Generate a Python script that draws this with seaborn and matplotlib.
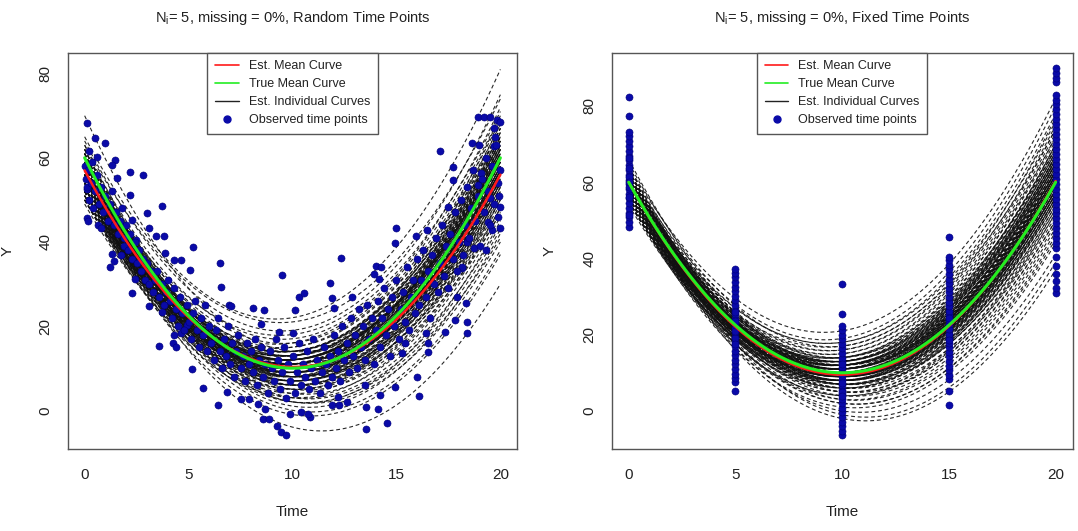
import numpy as np
import pandas as pd
import matplotlib
matplotlib.use("Agg")
import matplotlib.pyplot as plt
from matplotlib.lines import Line2D
import seaborn as sns

# ---------------------------------------------------------------- data
# Individual fitted curves, each given by its value at t = 0, 10 and 20
rand_curve_y0 = [70, 65, 64, 63, 62, 61, 60, 59, 58, 57, 56, 55, 54, 53, 52, 51, 50, 60, 59, 58,
                 57, 56, 55, 54, 53, 52, 51, 50, 62, 61, 60, 58, 57, 56, 55, 54, 53, 52, 51, 50,
                 59, 57, 55, 53, 56, 54, 52, 58, 60, 61, 57, 55, 53, 62, 59, 56, 54, 51, 50, 49,
                 63, 60, 58, 56, 55, 53, 57, 55, 52, 59, 61, 54, 50, 58, 56, 62, 60, 52, 57, 54,
                 58, 56, 54, 57, 55, 53, 59, 60, 52, 51, 56, 58, 54, 55, 57, 59, 61, 53, 56, 58,
                 60, 55, 52, 57, 54, 59, 56, 58, 61, 53]
rand_curve_y10 = [14, 22, 19, 21, 17, 13, 16, 12, 15, 11, 14, 10, 12, 9, 13, 8, 11, 9, 7, 10,
                  6, 8, 5, 7, 4, 6, 3, 5, 11, 8, 12, 13, 9, 11, 13, 10, 8, 10, 7, 9,
                  2, 1, 0, -1, -4, 3, 2, 4, 6, 5, 14, 16, 15, 14, 18, 12, 11, 12, 7, 6,
                  10, 10, 8, 6, 7, 5, 10, 9, 8, 11, 13, 14, 10, 3, 2, 8, 14, 11, 12, 6,
                  11, 10, 9, 12, 11, 10, 10, 11, 9, 10, 9, 12, 13, 12, 8, 9, 10, 11, 13, 10,
                  13, 8, 12, 11, 8, 14, 7, 9, 12, 7]
rand_curve_y20 = [62, 81, 75, 74, 72, 70, 69, 66, 68, 65, 64, 63, 61, 60, 62, 58, 57, 59, 56, 58,
                  55, 54, 52, 53, 50, 49, 47, 48, 60, 57, 63, 61, 56, 59, 64, 57, 55, 56, 52, 54,
                  45, 42, 38, 37, 30, 44, 41, 46, 51, 48, 66, 70, 67, 67, 71, 60, 59, 60, 50, 48,
                  58, 55, 53, 50, 51, 47, 62, 58, 57, 64, 65, 65, 56, 43, 40, 54, 67, 63, 61, 52,
                  60, 58, 56, 62, 61, 59, 61, 62, 55, 57, 57, 64, 63, 62, 54, 57, 60, 60, 65, 59,
                  66, 55, 61, 63, 54, 68, 52, 58, 64, 53]

fixed_curve_y0 = [64, 63, 62, 65, 61, 60, 63, 59, 62, 58, 61, 57, 60, 56, 59, 55, 58, 62, 57, 60,
                  56, 59, 55, 61, 57, 60, 56, 58, 62, 59, 64, 63, 61, 60, 58, 57, 56, 55, 59, 61,
                  63, 58, 57, 60, 62, 55, 54, 56, 58, 60, 59, 57, 61, 62, 64, 66, 60, 58, 56, 59,
                  61, 63, 57, 55, 60, 58, 61, 59, 62, 57, 60, 56, 59, 62, 58, 55, 60, 57, 63, 61,
                  60, 59, 61, 58, 62, 57, 60, 59, 61, 58, 60, 62, 57, 59, 61, 60, 58, 63, 56, 59,
                  62, 60, 57, 61, 58, 60, 59, 63, 56, 61]
fixed_curve_y10 = [21, 19, 18, 17, 16, 15, 14, 13, 12, 11, 13, 12, 11, 10, 9, 8, 10, 9, 7, 8,
                   6, 5, 4, 6, 3, 2, 1, 0, -1, -2, 11, 13, 10, 12, 14, 9, 11, 10, 7, 8,
                   9, 6, 5, 4, 5, 6, 8, 8, 9, 10, 11, 13, 15, 16, 14, 12, 7, 8, 12, 12,
                   11, 7, 10, 9, 3, 2, 18, 17, 13, 14, 6, 4, 10, 10, 12, 7, 9, 8, 12, 9,
                   10, 9, 11, 10, 11, 9, 12, 8, 9, 11, 9, 12, 11, 13, 7, 11, 8, 10, 9, 10,
                   14, 13, 7, 12, 12, 8, 11, 13, 10, 10]
fixed_curve_y20 = [82, 80, 78, 77, 75, 73, 72, 70, 69, 67, 68, 66, 65, 63, 62, 60, 61, 59, 57, 58,
                   55, 53, 50, 52, 48, 46, 44, 41, 39, 37, 66, 70, 64, 67, 71, 60, 64, 62, 56, 57,
                   60, 54, 51, 49, 50, 53, 58, 59, 61, 63, 65, 68, 72, 74, 70, 65, 55, 57, 66, 64,
                   62, 54, 60, 58, 47, 45, 76, 74, 67, 69, 56, 52, 62, 61, 63, 56, 59, 58, 63, 58,
                   62, 60, 64, 61, 63, 59, 66, 57, 60, 63, 58, 65, 62, 67, 56, 63, 58, 62, 60, 61,
                   69, 68, 55, 66, 65, 57, 62, 67, 61, 61]

# Estimated and true mean curves (value at t = 0, 10, 20)
rand_est_mean = [57, 10.3, 56]
fixed_est_mean = [60, 9.5, 60.3]
true_mean = [60, 10, 60]

# Observations at random time points: (time, Y)
rand_obs = [
    (0.1, 68.3), (0.2, 61.5), (0.5, 64.7), (1.0, 63.5), (0.6, 60.2), (0.0, 58.0), (0.1, 52.6),
    (0.1, 45.6), (0.15, 45.0), (0.65, 44.0), (0.8, 43.4), (1.45, 59.5), (1.3, 58.3), (1.55, 55.2),
    (2.2, 56.7), (2.8, 56.0), (1.2, 34.0), (1.4, 35.5), (1.3, 37.1), (1.75, 37.0), (1.9, 39.0),
    (2.2, 51.2), (2.3, 45.2), (2.45, 40.5), (3.0, 46.8), (3.1, 43.3), (3.7, 48.6), (3.45, 41.3),
    (3.8, 41.3), (2.3, 27.8), (2.4, 31.3), (3.1, 24.8), (3.6, 15.3), (3.7, 23.4), (4.25, 15.9),
    (4.4, 15.1), (4.3, 17.9), (4.65, 35.7), (4.3, 35.7), (3.85, 37.3), (5.2, 38.9), (5.05, 33.3),
    (5.15, 9.7), (4.65, 18.3), (4.9, 20.2), (5.7, 5.2), (6.5, 34.9), (6.55, 29.4), (6.4, 1.2),
    (6.85, 4.4), (6.95, 25.0), (7.05, 24.8), (7.5, 2.8), (8.1, 24.2), (8.65, 23.8), (8.5, 20.6),
    (7.9, 2.8), (8.35, 1.6), (8.6, -2.0), (8.7, 0.2), (8.85, -2.0), (9.25, -3.8), (9.45, -5.2),
    (9.7, -5.8), (9.5, 32.1), (9.35, 18.7), (9.9, -0.8), (10.1, 23.8), (10.3, 27.0), (10.55, 27.8),
    (10.0, 18.3), (10.4, -0.4), (10.85, -1.6), (10.75, -0.8), (11.8, 30.3), (11.9, 26.6),
    (12.35, 36.1), (12.0, 24.2), (12.2, 3.2), (11.9, 1.2), (12.25, 1.2), (12.6, 2.0), (12.85, 27.0),
    (13.5, 6.0), (13.55, -4.4), (13.55, 0.8), (14.1, 0.4), (14.2, 3.6), (14.55, -3.0), (14.0, 34.3),
    (14.25, 34.1), (13.9, 32.5), (14.15, 31.1), (15.0, 43.3), (14.95, 39.7), (14.95, 5.6),
    (15.25, 13.5), (15.4, 15.9), (16.0, 7.9), (16.1, 3.3), (15.95, 41.3), (16.45, 42.9),
    (16.4, 18.3), (16.5, 13.9), (16.5, 15.9), (17.1, 61.5), (17.35, 18.7), (17.8, 21.4),
    (17.7, 57.9), (17.7, 54.8), (17.5, 48.4), (17.9, 27.0), (18.4, 18.3), (18.4, 21.0),
    (18.35, 25.4), (18.15, 33.7), (18.4, 40.1), (18.9, 69.8), (19.2, 69.8), (19.5, 69.7),
    (19.85, 69.0), (20.0, 68.4), (19.7, 67.1), (20.0, 48.4), (20.0, 43.4), (19.9, 46.0),
    (19.5, 50.4), (18.9, 53.6), (19.05, 56.3), (18.65, 63.5), (18.95, 63.1), (19.4, 44.8),
    (19.6, 42.9), (19.7, 62.7), (19.3, 38.1), (18.75, 38.5), (18.15, 34.1),
    (0.05, 55), (0.1, 53), (0.15, 57), (0.2, 50), (0.3, 54), (0.35, 59), (0.4, 48), (0.5, 52),
    (0.6, 56), (0.7, 49), (0.8, 53), (0.9, 47), (1.0, 51), (1.1, 45), (1.2, 49), (1.3, 52),
    (1.4, 44), (1.5, 47), (1.6, 42), (1.7, 45), (1.8, 48), (1.9, 41), (2.0, 44),
    (2.1, 38), (2.2, 42), (2.3, 36), (2.4, 40), (2.5, 35), (2.6, 38), (2.7, 33), (2.8, 36),
    (2.9, 31), (3.0, 35), (3.1, 30), (3.2, 33), (3.3, 28), (3.4, 31), (3.5, 33), (3.6, 27),
    (3.7, 30), (3.8, 25), (3.9, 28), (4.0, 31),
    (4.1, 26), (4.2, 22), (4.3, 29), (4.4, 24), (4.5, 20), (4.6, 27), (4.7, 23), (4.8, 19),
    (4.9, 25), (5.0, 21), (5.1, 17), (5.2, 23), (5.3, 26), (5.4, 19), (5.5, 15), (5.6, 22),
    (5.7, 18), (5.8, 25), (5.9, 14), (6.0, 20),
    (6.1, 16), (6.2, 12), (6.3, 19), (6.4, 22), (6.5, 14), (6.6, 10), (6.7, 17), (6.8, 13),
    (6.9, 20), (7.0, 11), (7.1, 16), (7.2, 8), (7.3, 14), (7.4, 18), (7.5, 10), (7.6, 13),
    (7.7, 7), (7.8, 16), (7.9, 11), (8.0, 14),
    (8.1, 9), (8.2, 17), (8.3, 6), (8.4, 12), (8.5, 15), (8.6, 8), (8.7, 11), (8.8, 4),
    (8.9, 14), (9.0, 10), (9.1, 7), (9.2, 17), (9.3, 12), (9.4, 5), (9.5, 9), (9.6, 15),
    (9.7, 3), (9.8, 11), (9.9, 7), (10.0, 13),
    (10.1, 4), (10.2, 9), (10.3, 16), (10.4, 6), (10.5, 11), (10.6, 8), (10.7, 14), (10.8, 5),
    (10.9, 10), (11.0, 17), (11.1, 7), (11.2, 12), (11.3, 4), (11.4, 9), (11.5, 15), (11.6, 11),
    (11.7, 6), (11.8, 13), (11.9, 8), (12.0, 18),
    (12.1, 10), (12.2, 14), (12.3, 7), (12.4, 20), (12.5, 12), (12.6, 16), (12.7, 9), (12.8, 22),
    (12.9, 13), (13.0, 18), (13.1, 10), (13.2, 24), (13.3, 15), (13.4, 20), (13.5, 12), (13.6, 25),
    (13.7, 17), (13.8, 22), (13.9, 11), (14.0, 19),
    (14.1, 26), (14.2, 15), (14.3, 22), (14.4, 29), (14.5, 18), (14.6, 24), (14.7, 13), (14.8, 27),
    (14.9, 20), (15.0, 31), (15.1, 17), (15.2, 24), (15.3, 28), (15.4, 21), (15.5, 34), (15.6, 19),
    (15.7, 27), (15.8, 31), (15.9, 23), (16.0, 36),
    (16.1, 25), (16.2, 31), (16.3, 38), (16.4, 27), (16.5, 33), (16.6, 22), (16.7, 37), (16.8, 30),
    (16.9, 41), (17.0, 28), (17.1, 35), (17.2, 44), (17.3, 32), (17.4, 39), (17.5, 29), (17.6, 42),
    (17.7, 36), (17.8, 47), (17.9, 33), (18.0, 40),
    (18.1, 50), (18.2, 37), (18.3, 44), (18.4, 53), (18.5, 41), (18.6, 48), (18.7, 57), (18.8, 45),
    (18.9, 51), (19.0, 39), (19.1, 55), (19.2, 47), (19.3, 60), (19.4, 52), (19.5, 44), (19.6, 58),
    (19.7, 49), (19.8, 63), (19.9, 54), (20.0, 57), (19.95, 51), (19.75, 65),
]

# Observations at the fixed design times
fixed_times = [0, 5, 10, 15, 20]
fixed_obs_t0 = [48.3, 49.5, 50.8, 52, 53.3, 54.5, 55.8, 57, 58.2, 59.5, 60.7, 62, 63.2, 64.5, 65.7,
                67, 68.2, 69.5, 70.7, 72, 73.3, 77.3, 82.4, 56, 58.8, 61.3, 63.8, 66.3, 51.5, 60]
fixed_obs_t5 = [5.2, 7.5, 8.6, 9.8, 11, 12.2, 13.4, 14.6, 15.8, 17, 18.2, 19.4, 20.6, 21.8, 23,
                24.2, 25.4, 26.6, 27.8, 29, 30.2, 31.4, 32.6, 33.8, 35, 36.2, 37.2, 19, 21, 23.5,
                26, 17.5]
fixed_obs_t10 = [-6.4, -5.3, -4, -2.8, -1.6, -0.4, 0.8, 2, 3.2, 4.4, 5.6, 6.8, 8, 9.2, 10.4, 11.6,
                 12.8, 14, 15.2, 16.4, 17.6, 18.8, 20, 21.2, 22.3, 25.4, 33.2, 7.4, 9.8, 12.2, 5, 3.8]
fixed_obs_t15 = [1.6, 5.2, 8.3, 9.5, 10.7, 11.9, 13.1, 14.3, 15.5, 16.7, 17.9, 19.1, 20.3, 21.5,
                 22.7, 23.9, 25.1, 26.3, 27.5, 28.7, 29.9, 31.1, 32.3, 33.5, 34.7, 35.9, 37.1, 38.3,
                 39.5, 40.5, 45.7, 18.5, 24.5]
fixed_obs_t20 = [30.9, 32.2, 34, 35.8, 38, 40.3, 42.8, 44, 45.3, 46.6, 47.9, 49.2, 50.5, 51.8,
                 53.1, 54.4, 55.7, 57, 58.3, 59.6, 60.9, 62.2, 63.5, 64.8, 66.1, 67.4, 68.7, 70,
                 71.3, 72.6, 73.9, 75.2, 76.5, 77.8, 79.1, 80.4, 81.5, 82.8, 86.2, 87.4, 88.7, 90]

panel_titles = [r"N$_{\mathregular{i}}$= 5, missing = 0%, Random Time Points",
                r"N$_{\mathregular{i}}$= 5, missing = 0%, Fixed Time Points"]
legend_labels = ["Est. Mean Curve", "True Mean Curve", "Est. Individual Curves",
                 "Observed time points"]
x_ticks = [0, 5, 10, 15, 20]
y_ticks = [0, 20, 40, 60, 80]

# ---------------------------------------------------------------- style
sns.set_style("white")
plt.rcParams["font.family"] = ["Liberation Sans", "DejaVu Sans"]
plt.rcParams["mathtext.fontset"] = "custom"
plt.rcParams["mathtext.rm"] = "Liberation Sans"
plt.rcParams["mathtext.it"] = "Liberation Sans"

TEXT = "#222222"
FRAME = "#555555"
POINT = "#0a0aa8"
t_grid = np.linspace(0, 20, 121)


def quad_curve(v0, v10, v20):
    coef = np.polyfit([0, 10, 20], [v0, v10, v20], 2)
    return np.polyval(coef, t_grid)


def curves_frame(y0s, y10s, y20s):
    parts = []
    for k, (a, b, c) in enumerate(zip(y0s, y10s, y20s)):
        parts.append(pd.DataFrame({"id": k, "Time": t_grid, "Y": quad_curve(a, b, c)}))
    return pd.concat(parts, ignore_index=True)


def draw_panel(ax, curves, obs, est, title, ylim):
    sns.lineplot(data=curves, x="Time", y="Y", units="id", estimator=None, sort=False,
                 color="#111111", lw=0.8, linestyle=(0, (3.5, 2.5)), alpha=0.9, ax=ax,
                 zorder=1)
    sns.scatterplot(data=obs, x="Time", y="Y", color=POINT, edgecolor="#00007a",
                    linewidth=0.4, s=26, ax=ax, zorder=2)
    ax.plot(t_grid, quad_curve(*est), color="#ff1a1a", lw=1.8, zorder=3)
    ax.plot(t_grid, quad_curve(*true_mean), color="#22ee22", lw=2.2, zorder=4)

    ax.set_xlim(-0.8, 20.8)
    ax.set_ylim(*ylim)
    ax.set_xticks(x_ticks)
    ax.set_yticks(y_ticks)
    ax.set_xticklabels([str(v) for v in x_ticks])
    ax.set_yticklabels([str(v) for v in y_ticks], rotation=90, va="center")
    ax.tick_params(axis="both", direction="out", length=5, width=0.9, color=FRAME,
                   labelsize=11, labelcolor=TEXT)
    ax.tick_params(axis="x", pad=8.5)
    ax.tick_params(axis="y", pad=6)
    for sp in ax.spines.values():
        sp.set_visible(True)
        sp.set_color(FRAME)
        sp.set_linewidth(1.0)
    ax.set_xlabel("Time", fontsize=11, color=TEXT)
    ax.set_ylabel("Y", fontsize=11, color=TEXT)
    ax.xaxis.set_label_coords(0.5, -0.142)
    ax.yaxis.set_label_coords(-0.118, 0.5)
    ax.set_title(title, fontsize=10.5, color=TEXT, pad=22)

    handles = [Line2D([], [], color="#ff1a1a", lw=1.2),
               Line2D([], [], color="#22ee22", lw=1.2),
               Line2D([], [], color="#222222", lw=1.0),
               Line2D([], [], color=POINT, marker="o", ls="none", markersize=5)]
    leg = ax.legend(handles, legend_labels, loc="upper center", bbox_to_anchor=(0.5, 1.0),
                    borderaxespad=0, fontsize=9, frameon=True, fancybox=False,
                    framealpha=1, edgecolor=FRAME, handlelength=1.9, handletextpad=0.8,
                    labelspacing=0.48, borderpad=0.6)
    leg.get_frame().set_linewidth(1.0)
    for txt in leg.get_texts():
        txt.set_color(TEXT)


fig = plt.figure(figsize=(10.78, 5.31), dpi=100)
ax_left = fig.add_axes([0.0631, 0.1544, 0.4165, 0.7458])
ax_right = fig.add_axes([0.5674, 0.1544, 0.4277, 0.7458])

rand_curves = curves_frame(rand_curve_y0, rand_curve_y10, rand_curve_y20)
fixed_curves = curves_frame(fixed_curve_y0, fixed_curve_y10, fixed_curve_y20)

rand_points = pd.DataFrame(rand_obs, columns=["Time", "Y"])
fixed_cols = [fixed_obs_t0, fixed_obs_t5, fixed_obs_t10, fixed_obs_t15, fixed_obs_t20]
fixed_points = pd.DataFrame(
    [(t, v) for t, col in zip(fixed_times, fixed_cols) for v in col], columns=["Time", "Y"])

draw_panel(ax_left, rand_curves, rand_points, rand_est_mean, panel_titles[0], (-9.2, 84.9))
draw_panel(ax_right, fixed_curves, fixed_points, fixed_est_mean, panel_titles[1], (-10.0, 93.9))
ax_right.yaxis.set_label_coords(-0.119, 0.5)

fig.savefig("out.png", dpi=100)
